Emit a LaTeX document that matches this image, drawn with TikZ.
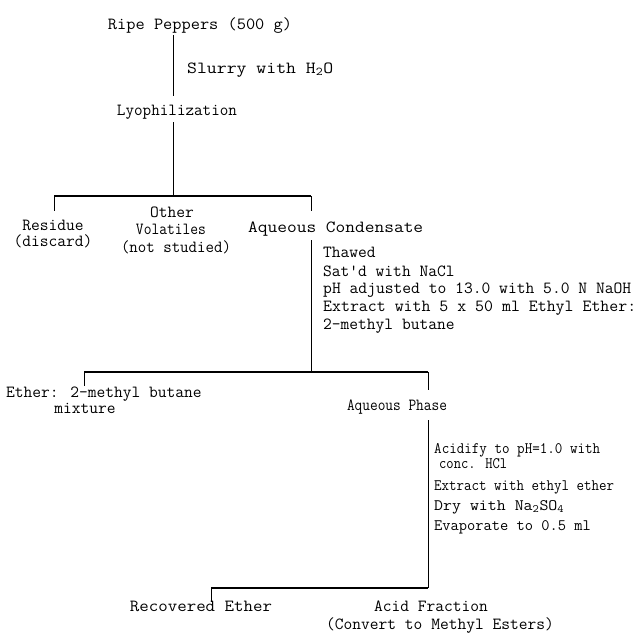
\documentclass[tikz,border=0pt]{standalone}
\usepackage{fontspec}
\usepackage{graphicx}
\newcommand\fw[2]{\resizebox{#1pt}{\height}{#2}}
\begin{document}
\begin{tikzpicture}[x=1pt,y=-1pt,
  t/.style={inner sep=0pt, font=\ttfamily\fontsize{17}{19}\selectfont\addfontfeature{FakeBold=0.5}},
  ts/.style={inner sep=0pt, font=\ttfamily\fontsize{16}{18}\selectfont\addfontfeature{FakeBold=0.5}},
  vl/.style={line width=1pt},
  hl/.style={line width=1.7pt}]
\useasboundingbox (0,0) rectangle (639,632);
% texts
\node[t,anchor=base] (ripe) at (200,29) {\fw{184}{Ripe Peppers (500 g)}};
\node[t,anchor=base west] (slurry) at (187,73) {\fw{146}{Slurry with H\textsubscript{2}O}};
\node[t,anchor=base] (lyo) at (177,115) {\fw{120}{Lyophilization}};
\node[t,anchor=base] (res) at (53,230) {Residue};
\node[t,anchor=base] (disc) at (53,246) {(discard)};
\node[t,anchor=base] (oth) at (172,217) {Other};
\node[t,anchor=base] (vol) at (171,234) {\fw{70}{Volatiles}};
\node[t,anchor=base] (ns) at (176,252) {\fw{110}{(not studied)}};
\node[t,anchor=base west] (aqc) at (248,232) {\fw{175}{Aqueous Condensate}};
\node[t,anchor=base west] (s1) at (323,257) {Thawed};
\node[t,anchor=base west] (s2) at (323,276) {Sat'd with NaCl};
\node[t,anchor=base west] (s3) at (323,293) {\fw{308}{pH adjusted to 13.0 with 5.0 N NaOH}};
\node[t,anchor=base west] (s4) at (323,311) {\fw{313}{Extract with 5 x 50 ml Ethyl Ether:}};
\node[t,anchor=base west] (s5) at (323,329) {2-methyl butane};
\node[t,anchor=base west] (eth) at (6,397) {Ether: 2-methyl butane};
\node[t,anchor=base] (mix) at (85,413) {mixture};
\node[t,anchor=base] (aqp) at (397,410) {\fw{100}{Aqueous Phase}};
\node[ts,anchor=base west] (p1) at (434,453) {\fw{166}{Acidify to pH=1.0 with}};
\node[ts,anchor=base west] (p2) at (439,468) {\fw{68}{conc. HCl}};
\node[ts,anchor=base west] (p3) at (434,490) {\fw{180}{Extract with ethyl ether}};
\node[ts,anchor=base west] (p4) at (434,510) {\fw{130}{Dry with Na\textsubscript{2}SO\textsubscript{4}}};
\node[ts,anchor=base west] (p5) at (434,530) {Evaporate to 0.5 ml};
\node[t,anchor=base] (rec) at (201,611) {\fw{142}{Recovered Ether}};
\node[t,anchor=base] (acid) at (431,611) {Acid Fraction};
\node[t,anchor=base] (conv) at (440,629) {(Convert to Methyl Esters)};
% junction points
\coordinate (a1) at (173,35);  \coordinate (a2) at (173,96);
\coordinate (b1) at (173,122); \coordinate (b2) at (173,196);
\coordinate (h1l) at (54,196); \coordinate (h1r) at (311,196);
\coordinate (d1l) at (54,211); \coordinate (d1r) at (311,211);
\coordinate (c1) at (311,240); \coordinate (c2) at (311,372);
\coordinate (h2l) at (84,372); \coordinate (h2r) at (428,372);
\coordinate (d2l) at (84,386); \coordinate (d2r) at (428,390);
\coordinate (e1) at (428,420); \coordinate (e2) at (428,588);
\coordinate (h3l) at (211,588);
\coordinate (d3l) at (211,602);
% lines
\draw[vl] (a1) -- (a2);
\draw[vl] (b1) -- (b2);
\draw[hl] (h1l) -- (h1r);
\draw[vl] (h1l) -- (d1l);
\draw[vl] (h1r) -- (d1r);
\draw[vl] (c1) -- (c2);
\draw[hl] (h2l) -- (h2r);
\draw[vl] (h2l) -- (d2l);
\draw[vl] (h2r) -- (d2r);
\draw[vl] (e1) -- (e2);
\draw[hl] (h3l) -- (e2);
\draw[vl] (h3l) -- (d3l);
\end{tikzpicture}
\end{document}
